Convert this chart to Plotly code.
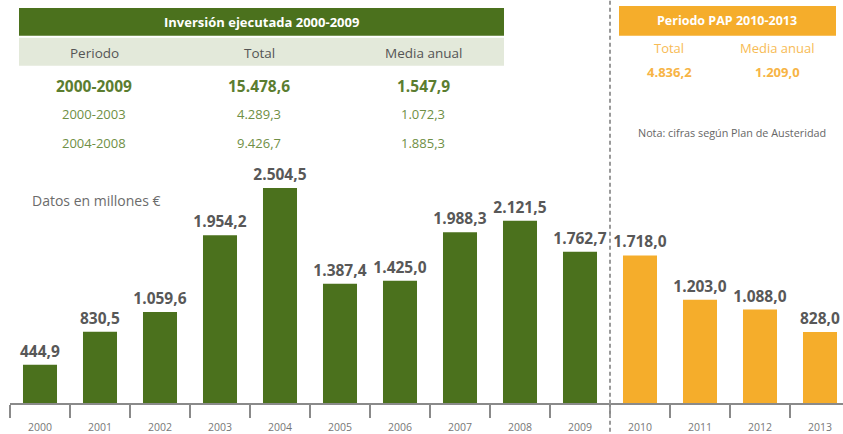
import plotly.graph_objects as go

# ---- data ----
years = ["2000", "2001", "2002", "2003", "2004", "2005", "2006",
         "2007", "2008", "2009", "2010", "2011", "2012", "2013"]
inversion = [444.9, 830.5, 1059.6, 1954.2, 2504.5, 1387.4, 1425.0,
             1988.3, 2121.5, 1762.7, 1718.0, 1203.0, 1088.0, 828.0]
pap_years = ["2010", "2011", "2012", "2013"]

table_cols = ["Periodo", "Total", "Media anual"]
table_rows = [["2000-2009", "15.478,6", "1.547,9"],
              ["2000-2003", "4.289,3", "1.072,3"],
              ["2004-2008", "9.426,7", "1.885,3"]]
pap_cols = ["Total", "Media anual"]
pap_vals = ["4.836,2", "1.209,0"]

GREEN = "#4b711d"
ORANGE = "#f5ad2b"
FONT = "Open Sans"

W, H = 843, 434
L, R, T, B = 10, 0, 0, 29
PW, PH = W - L - R, H - T - B


def px(x):
    return (x - L) / PW


def py(y):
    return (H - B - y) / PH


colors = [ORANGE if y in pap_years else GREEN for y in years]

fig = go.Figure()
fig.add_trace(go.Bar(
    x=years, y=inversion, marker_color=colors, marker_line_width=0,
    texttemplate="<b>%{y:,.1f}</b>", textposition="outside",
    constraintext="none",
    textfont=dict(family=FONT, size=15.5, color="#585858"),
    cliponaxis=False, hoverinfo="skip"))

shapes = []
annotations = []

# green table
shapes.append(dict(type="rect", xref="paper", yref="paper", x0=px(19), x1=px(504),
                   y0=py(36), y1=py(8), fillcolor=GREEN, line_width=0, layer="below"))
shapes.append(dict(type="rect", xref="paper", yref="paper", x0=px(19), x1=px(504),
                   y0=py(66), y1=py(38), fillcolor="#e3e9da", line_width=0, layer="below"))
annotations.append(dict(text="<b>Inversión ejecutada 2000-2009</b>", x=px(261), y=py(22),
                        font=dict(family=FONT, size=13, color="white")))
col_x = [94, 259, 423]
for cx, c in zip(col_x, table_cols):
    annotations.append(dict(text=c, x=px(cx), y=py(53),
                            font=dict(family=FONT, size=13.5, color="#555555")))
row_y = [86, 115, 144]
for i, (ry, row) in enumerate(zip(row_y, table_rows)):
    for cx, v in zip(col_x, row):
        if i == 0:
            annotations.append(dict(text="<b>" + v + "</b>", x=px(cx), y=py(ry),
                                    font=dict(family=FONT, size=15.5, color="#5b7d30")))
        else:
            annotations.append(dict(text=v, x=px(cx), y=py(ry),
                                    font=dict(family=FONT, size=13, color="#6f8f45")))

# orange table
shapes.append(dict(type="rect", xref="paper", yref="paper", x0=px(619), x1=px(836),
                   y0=py(36), y1=py(6), fillcolor=ORANGE, line_width=0, layer="below"))
annotations.append(dict(text="<b>Periodo PAP 2010-2013</b>", x=px(727), y=py(21),
                        font=dict(family=FONT, size=12.5, color="white")))
for cx, c, v in zip([669, 777], pap_cols, pap_vals):
    annotations.append(dict(text=c, x=px(cx), y=py(48),
                            font=dict(family=FONT, size=13, color="#f7bb55")))
    annotations.append(dict(text="<b>" + v + "</b>", x=px(cx), y=py(72),
                            font=dict(family=FONT, size=13, color="#f7b445")))
annotations.append(dict(text="Nota: cifras según Plan de Austeridad", x=px(732), y=py(133),
                        font=dict(family=FONT, size=10.8, color="#666666")))

annotations.append(dict(text="Datos en millones €", x=px(30), y=py(201), xanchor="left",
                        font=dict(family=FONT, size=14, color="#6b6b6b")))

for a in annotations:
    a.update(xref="paper", yref="paper", showarrow=False)
    a.setdefault("xanchor", "center")
    a["yanchor"] = "middle"

# dashed separator between periods
shapes.append(dict(type="line", xref="x", yref="paper", x0=9.5, x1=9.5,
                   y0=py(H), y1=py(0), line=dict(color="#9a9a9a", width=2, dash="4px,3px")))

ymax = PH / 0.0863
fig.update_layout(
    width=W, height=H, margin=dict(l=L, r=R, t=T, b=B, pad=0),
    paper_bgcolor="white", plot_bgcolor="white",
    separators=",.", showlegend=False, bargap=0.433,
    font=dict(family=FONT),
    xaxis=dict(type="category", range=[-0.5, -0.5 + PW / 60.0], showgrid=False,
               showline=True, linecolor="#8a8a8a", linewidth=1.5,
               ticks="outside", ticklen=13, tickcolor="#8a8a8a", tickwidth=1.5,
               tickson="boundaries", ticklabelstandoff=14, fixedrange=True,
               tickfont=dict(family=FONT, size=10.5, color="#777777")),
    yaxis=dict(range=[0, ymax], visible=False, fixedrange=True),
    shapes=shapes, annotations=annotations,
)

fig.write_html("out.html")
